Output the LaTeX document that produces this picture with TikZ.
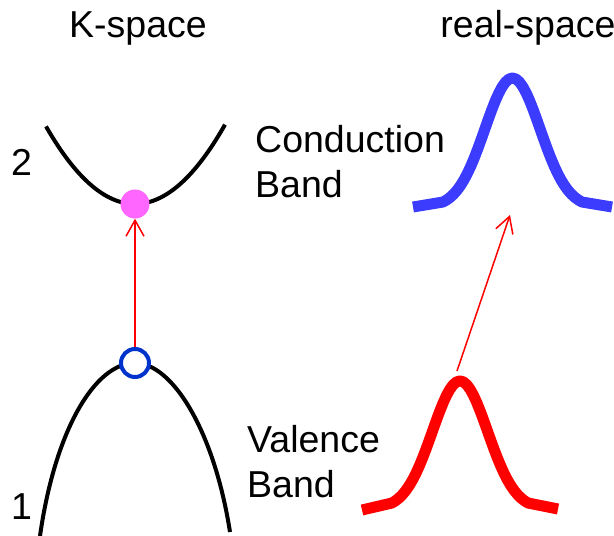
\documentclass[tikz,border=0pt]{standalone}
\usepackage{fontspec}
\setmainfont{Liberation Sans}
\usetikzlibrary{arrows.meta}
\definecolor{wblue}{RGB}{60,60,255}
\definecolor{holeblue}{RGB}{0,51,204}
\definecolor{elecpink}{RGB}{255,102,255}
\begin{document}
\begin{tikzpicture}[x=1pt,y=-1pt,>={Straight Barb[length=16pt,width=18pt]},
  band/.style={line width=4pt},
  wave/.style={line width=11pt,line join=round},
  lab/.style={font=\fontsize{37.5}{45}\selectfont,inner sep=0pt,align=left},
  trans/.style={->,red,line width=1.5pt}]
\useasboundingbox (0,0) rectangle (614,536);
\node (kspace) [lab,anchor=base] at (138,37) {K-space};
\node (rspace) [lab,anchor=base] at (528,37) {real-space};
\node (two) [lab,anchor=base west] at (11,175) {2};
\node (one) [lab,anchor=base west] at (11,519) {1};
\node (cband) [lab,anchor=base west] at (255,197) {Conduction\\Band};
\node (vband) [lab,anchor=base west] at (247,497) {Valence\\Band};
% bands in k-space
\draw[band] plot[domain=46:225,samples=60] (\x,{204-0.0098*(\x-135)^2});
\draw[band] (40,536) .. controls (55,430) and (95,363) .. (135,363)
  .. controls (172,363) and (214,430) .. (230,532);
\node (elec) [circle,fill=elecpink,minimum size=29pt,inner sep=0pt] at (135,204) {};
\node (hole) [circle,draw=holeblue,line width=4pt,fill=white,minimum size=28pt,inner sep=0pt] at (135,363) {};
\draw[trans] (hole) -- (elec);
% wave packets in real space
\draw[wave,wblue] (413,207) -- plot[domain=443:582,samples=41] (\x,{202-129.4*(exp(-((\x-512.5)^2)/1523)-0.042)}) -- (612,207);
\draw[wave,red] (362,510) -- plot[domain=392:528,samples=41] (\x,{503-128.2*(exp(-((\x-460)^2)/1523)-0.048)}) -- (558,509);
\coordinate (vtop) at (457,371);
\coordinate (ctop) at (510,215);
\draw[trans] (vtop) -- (ctop);
\end{tikzpicture}
\end{document}
